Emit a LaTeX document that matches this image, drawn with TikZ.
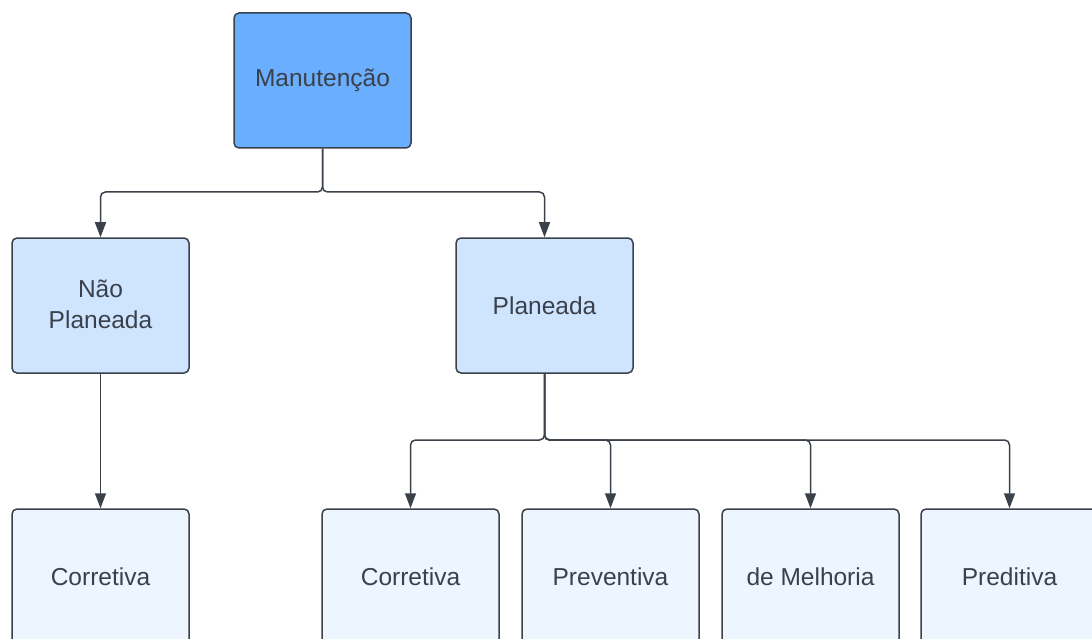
\documentclass[tikz,border=0pt]{standalone}
\usepackage{fontspec}
\setmainfont{Liberation Sans}
\usetikzlibrary{arrows.meta}
\definecolor{lineclr}{HTML}{3A414A}
\definecolor{topfill}{HTML}{6AAFFF}
\definecolor{midfill}{HTML}{CFE4FF}
\definecolor{lowfill}{HTML}{EDF5FF}
\tikzset{
  box/.style={draw=lineclr, line width=1.5pt, rounded corners=5pt,
    minimum width=177pt, minimum height=135pt, inner sep=0pt,
    text=lineclr, align=center, font=\fontsize{24.5}{31}\selectfont},
  conn/.style={draw=lineclr, line width=1.5pt, rounded corners=5pt,
    -{Triangle[length=15pt,width=11pt]}}
}
\begin{document}
\begin{tikzpicture}[x=1pt,y=-1pt]
\useasboundingbox (0,0) rectangle (1092,639);
\clip (0,0) rectangle (1092,639);
\node[box, fill=topfill] (top) at (322.5,80.5) {Manutenção};
\node[box, fill=midfill, text depth=2pt] (nao) at (100.5,305.5) {Não\\Planeada};
\node[box, fill=midfill] (plan) at (544.5,305.5) {Planeada};
\node[box, fill=lowfill] (c0) at (100.5,576.5) {Corretiva};
\node[box, fill=lowfill] (c1) at (410.5,576.5) {Corretiva};
\node[box, fill=lowfill] (c2) at (610.5,576.5) {Preventiva};
\node[box, fill=lowfill] (c3) at (810.5,576.5) {de Melhoria};
\node[box, fill=lowfill] (c4) at (1009.5,576.5) {Preditiva};
\coordinate (j1) at (322.5,192);
\coordinate (j2) at (544.5,440);
\draw[conn] (top.south) -- (j1) -| (nao.north);
\draw[conn] (top.south) -- (j1) -| (plan.north);
\draw[conn] (nao.south) -- (c0.north);
\draw[conn] (plan.south) -- (j2) -| (c1.north);
\draw[conn] (plan.south) -- (j2) -| (c2.north);
\draw[conn] (plan.south) -- (j2) -| (c3.north);
\draw[conn] (plan.south) -- (j2) -| (c4.north);
\end{tikzpicture}
\end{document}
